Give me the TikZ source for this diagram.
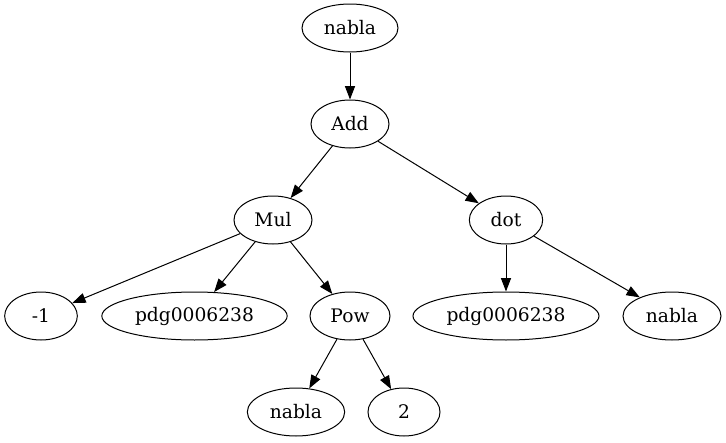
\documentclass[tikz,border=0pt]{standalone}
\usepackage{fontspec}
\setmainfont{DejaVu Serif}
\usetikzlibrary{shapes.geometric,arrows.meta}
\begin{document}
\begin{tikzpicture}[x=0.75pt,y=-0.75pt,
  nd/.style={draw,ellipse,line width=0.75pt,inner sep=0pt,minimum height=36pt,font=\fontsize{14}{16}\selectfont},
  ed/.style={line width=0.75pt,-{Triangle[length=10pt,width=7.5pt]}}]
\useasboundingbox (0,0) rectangle (726,443);
\node[nd,minimum width=72pt] (n0) at (350,28) {nabla};
\node[nd,minimum width=58.5pt] (add) at (350,124) {Add};
\node[nd,minimum width=58.5pt] (mul) at (273,220) {Mul};
\node[nd,minimum width=55pt] (dot) at (506,220) {dot};
\node[nd,minimum width=54.5pt] (m1) at (41,316) {-1};
\node[nd,minimum width=139pt] (p1) at (194.5,316) {pdg0006238};
\node[nd,minimum width=60pt] (pow) at (350,316) {Pow};
\node[nd,minimum width=139.5pt] (p2) at (506,316) {pdg0006238};
\node[nd,minimum width=73.5pt] (n2) at (672,316) {nabla};
\node[nd,minimum width=73pt] (n1) at (296,412) {nabla};
\node[nd,minimum width=54pt] (two) at (404,412) {2};
\draw[ed] (n0) -- (add);
\draw[ed] (add) -- (mul);
\draw[ed] (add) -- (dot);
\draw[ed] (mul) -- (m1);
\draw[ed] (mul) -- (p1);
\draw[ed] (mul) -- (pow);
\draw[ed] (dot) -- (p2);
\draw[ed] (dot) -- (n2);
\draw[ed] (pow) -- (n1);
\draw[ed] (pow) -- (two);
\end{tikzpicture}
\end{document}
